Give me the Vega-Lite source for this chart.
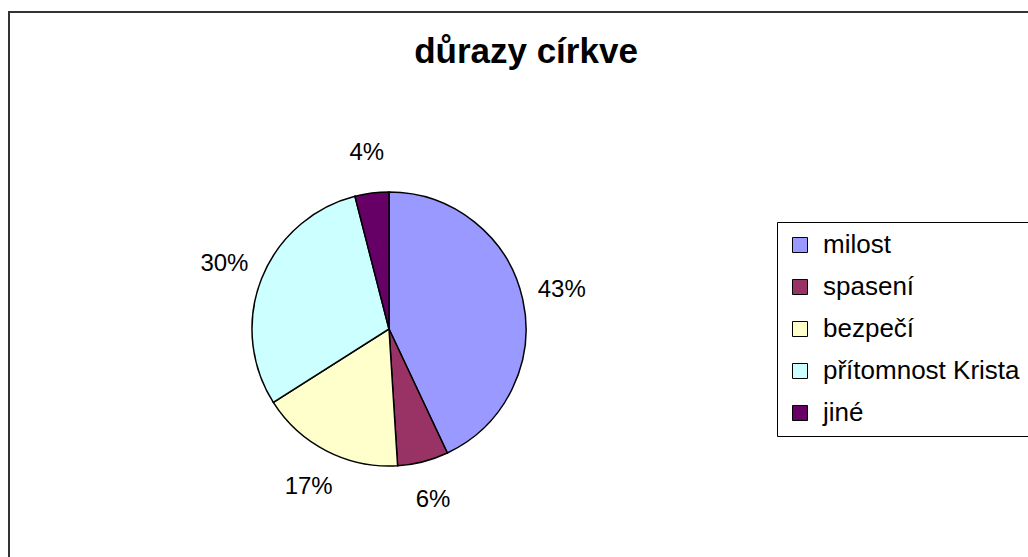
{
  "$schema": "https://vega.github.io/schema/vega-lite/v6.json",
  "autosize": "none",
  "width": 1034,
  "height": 555,
  "padding": {"left": 9, "top": 12, "right": -15, "bottom": -10},
  "background": "white",
  "config": {
    "view": {"stroke": null},
    "font": "Liberation Sans"
  },
  "datasets": {
    "slices": [
      {"i": 1, "category": "milost", "share": 0.43},
      {"i": 2, "category": "spasení", "share": 0.06},
      {"i": 3, "category": "bezpečí", "share": 0.17},
      {"i": 4, "category": "přítomnost Krista", "share": 0.30},
      {"i": 5, "category": "jiné", "share": 0.04}
    ],
    "heading": [
      {"title": "důrazy církve"}
    ]
  },
  "data": {"name": "slices"},
  "layer": [
    {
      "mark": {"type": "rect", "filled": false, "stroke": "#333333", "strokeWidth": 2},
      "encoding": {}
    },
    {
      "data": {"name": "heading"},
      "mark": {"type": "text", "x": {"expr": "width/2"}, "y": 51, "baseline": "alphabetic", "align": "center", "fontSize": 35, "fontWeight": "bold", "font": "Liberation Sans", "color": "black"},
      "encoding": {
        "text": {"field": "title", "type": "nominal"}
      }
    },
    {
      "mark": {"type": "arc", "outerRadius": 137, "x": 380, "y": 317, "stroke": "black", "strokeWidth": 1.5},
      "encoding": {
        "theta": {"field": "share", "type": "quantitative", "stack": true},
        "order": {"field": "i", "type": "quantitative"},
        "color": {
          "field": "category",
          "type": "nominal",
          "scale": {
            "domain": ["milost", "spasení", "bezpečí", "přítomnost Krista", "jiné"],
            "range": ["#9999FF", "#993366", "#FFFFCC", "#CCFFFF", "#660066"]
          },
          "legend": {
            "title": null,
            "orient": "none",
            "legendX": 768,
            "legendY": 210,
            "strokeColor": "black",
            "fillColor": "white",
            "padding": 10,
            "symbolType": "square",
            "symbolSize": 225,
            "symbolStrokeColor": "black",
            "symbolStrokeWidth": 1,
            "symbolOpacity": 1,
            "labelFontSize": 26,
            "labelFont": "Liberation Sans",
            "labelColor": "black",
            "labelLimit": 400,
            "rowPadding": 16,
            "labelOffset": 10
          }
        }
      }
    },
    {
      "mark": {"type": "text", "radius": 177, "x": 380, "y": 317, "fontSize": 24, "font": "Liberation Sans", "color": "black"},
      "encoding": {
        "theta": {"field": "share", "type": "quantitative", "stack": true},
        "order": {"field": "i", "type": "quantitative"},
        "text": {"field": "share", "type": "quantitative", "format": ".0%"}
      }
    }
  ]
}
